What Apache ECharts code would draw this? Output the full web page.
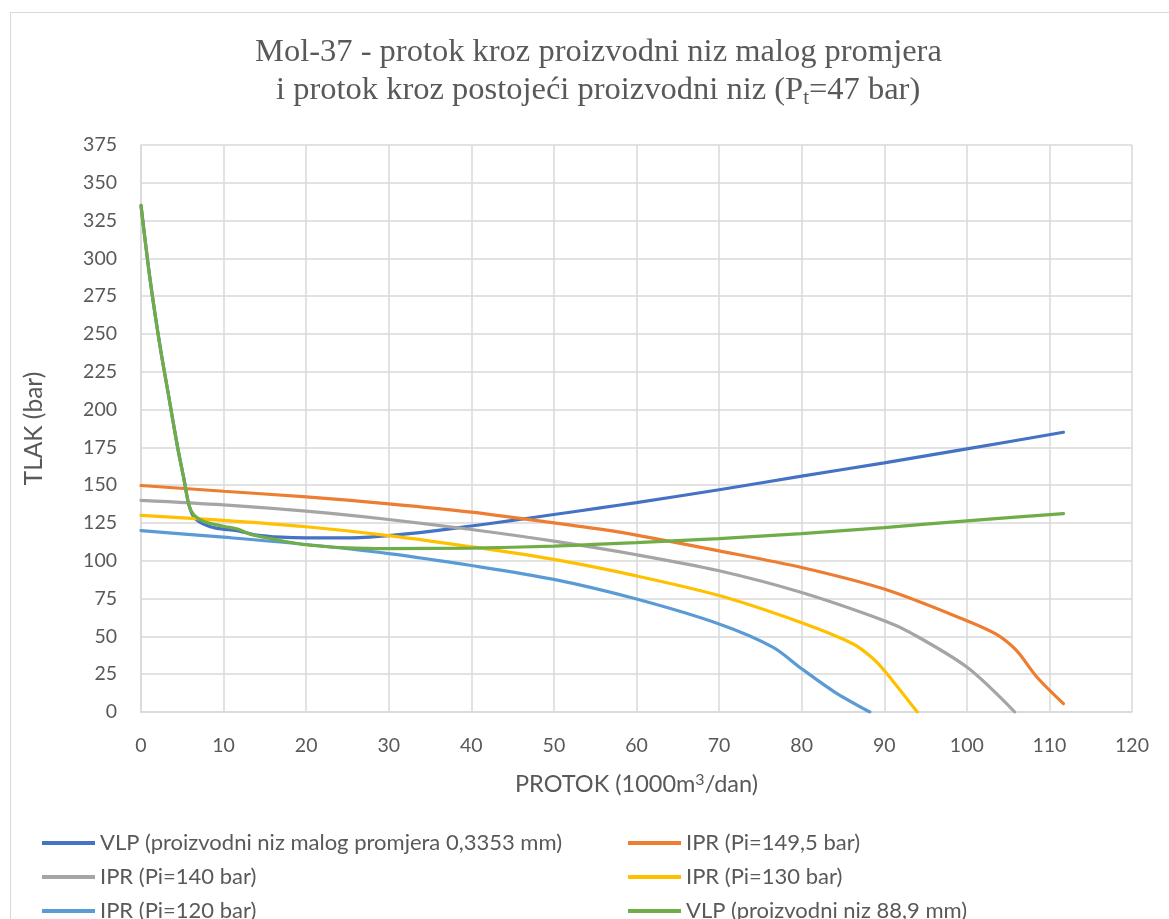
<!DOCTYPE html>
<html>
<head>
<meta charset="utf-8">
<script src="https://cdn.jsdelivr.net/npm/echarts@6/dist/echarts.min.js"></script>
<style>
html,body{margin:0;padding:0;background:#fff;overflow:hidden;}
#frame{position:absolute;left:10px;top:12px;width:1200px;height:960px;border:1px solid #d9d9d9;box-sizing:border-box;}
#chart{position:absolute;left:0;top:0;width:1169px;height:919px;}
</style>
</head>
<body>
<div id="frame"></div>
<div id="chart"></div>
<script>
// ---- data ----
const xTicks = [0, 120, 10];      // min, max, interval
const yTicks = [0, 375, 25];
const seriesNames = [
  'VLP (proizvodni niz malog promjera 0,3353 mm)',
  'IPR (Pi=149,5 bar)',
  'IPR (Pi=140 bar)',
  'IPR (Pi=130 bar)',
  'IPR (Pi=120 bar)',
  'VLP (proizvodni niz 88,9 mm)'
];
const vlpSmall = [[0,335],[1.1,286],[2.3,242],[3.35,209],[4.4,176],[5.2,154],[5.8,137],[6.4,129],[7.5,124.5],[9.2,121.4],[11.6,120],[14,117],[17,115.6],[20,115.2],[25,115.2],[30,116.7],[35,119.5],[40,123],[45,126.7],[50,130.6],[55.6,135],[60,138.5],[70,147],[80,156],[90,164.8],[100,174],[111.7,185]];
const ipr1495 = [[0,149.8],[10,146],[20,142.3],[30,137.7],[40,132.2],[50,125.1],[55.6,120.9],[60,117],[70,106.6],[80,95.6],[90,81.3],[100,60.4],[103.5,51.6],[106,40.7],[108.5,23],[111.7,5.5]];
const ipr140 = [[0,140],[10,137],[20,132.8],[30,127.3],[40,120.7],[50,113],[60,104],[70,93.4],[80,79],[90,60.4],[93.1,52.7],[100,29.7],[105.8,0]];
const ipr130 = [[0,130],[10,126.7],[20,122.5],[30,116.7],[40,109.3],[50,100.9],[60,90],[70,77],[80,59],[86.25,45],[88.5,36],[90,27.5],[94,0]];
const ipr120 = [[0,120],[10,115.6],[20,110.8],[30,104.8],[40,96.9],[50,87.7],[60,74.7],[70,58.2],[76.5,42.9],[80,28.6],[84,13.2],[88.25,0]];
const vlp889 = [[0,335],[1.1,286],[2.3,242],[3.35,209],[4.4,176],[5.2,154],[5.8,137],[6.4,130.4],[7.6,126],[10.1,122.7],[11.7,121],[13.3,117.5],[15.6,114.8],[19.7,110.8],[25,108.6],[30,108.1],[40,108.4],[50,109.7],[55.6,111],[60,112],[70,114.7],[80,118],[90,122],[100,126.4],[111.7,131.2]];
const colors = ['#4472C4','#ED7D31','#A5A5A5','#FFC000','#5B9BD5','#70AD47'];
const allData = [vlpSmall, ipr1495, ipr140, ipr130, ipr120, vlp889];
const titleLines = ['Mol-37 - protok kroz proizvodni niz malog promjera', 'i protok kroz postojeći proizvodni niz (P{sub|t}=47 bar)'];

const font = 'Lato, "Open Sans", sans-serif';
const serif = '"Liberation Serif", "DejaVu Serif", serif';
const titlePos = [[255, 36], [276, 71]];
const legendPos = [[42, 832], [628, 832], [42, 866], [628, 866], [42, 900], [628, 900]];
const chart = echarts.init(document.getElementById('chart'));
chart.setOption({
  animation: false,
  color: colors,
  title: titleLines.map((t, i) => ({
    text: t,
    left: titlePos[i][0],
    top: titlePos[i][1],
    padding: 0,
    textStyle: {
      fontFamily: serif, fontSize: 32.5, fontWeight: 'normal', color: '#595959',
      rich: { sub: { fontFamily: serif, fontSize: 21, color: '#595959', padding: [17, 0, 0, 0] } }
    }
  })),
  grid: { left: 141, right: 37, top: 145, bottom: 207, containLabel: false },
  xAxis: {
    type: 'value', min: xTicks[0], max: xTicks[1], interval: xTicks[2],
    name: 'PROTOK (1000m{sup|3}/dan)', nameLocation: 'middle', nameGap: 60,
    nameTextStyle: { fontFamily: font, fontSize: 23.5, color: '#595959',
      rich: { sup: { fontFamily: font, fontSize: 16, color: '#595959', padding: [0, 0, 9, 0] } } },
    axisLine: { show: true, lineStyle: { color: '#d9d9d9', width: 1.5 } },
    axisTick: { show: false },
    axisLabel: { fontFamily: font, fontSize: 19.5, color: '#595959', margin: 24 },
    splitLine: { show: true, lineStyle: { color: '#d9d9d9', width: 1.5 } }
  },
  yAxis: {
    type: 'value', min: yTicks[0], max: yTicks[1], interval: yTicks[2],
    name: 'TLAK (bar)', nameLocation: 'middle', nameGap: 94, nameRotate: 90,
    nameTextStyle: { fontFamily: font, fontSize: 24.5, color: '#595959' },
    axisLine: { show: true, lineStyle: { color: '#d9d9d9', width: 1.5 } },
    axisTick: { show: false },
    axisLabel: { fontFamily: font, fontSize: 19.5, color: '#595959', margin: 24 },
    splitLine: { show: true, lineStyle: { color: '#d9d9d9', width: 1.5 } }
  },
  legend: seriesNames.map((n, i) => ({
    data: [n],
    left: legendPos[i][0], top: legendPos[i][1], padding: 0,
    itemWidth: 53, itemHeight: 4, icon: 'rect',
    textStyle: { fontFamily: font, fontSize: 22, color: '#595959' }
  })),
  series: allData.map((d, i) => ({
    name: seriesNames[i], type: 'line', data: d,
    smooth: 0.3, showSymbol: false, symbol: 'none',
    lineStyle: { width: 3.2, color: colors[i], cap: 'round' },
    itemStyle: { color: colors[i] },
    z: 2 + i
  }))
});
</script>
</body>
</html>
